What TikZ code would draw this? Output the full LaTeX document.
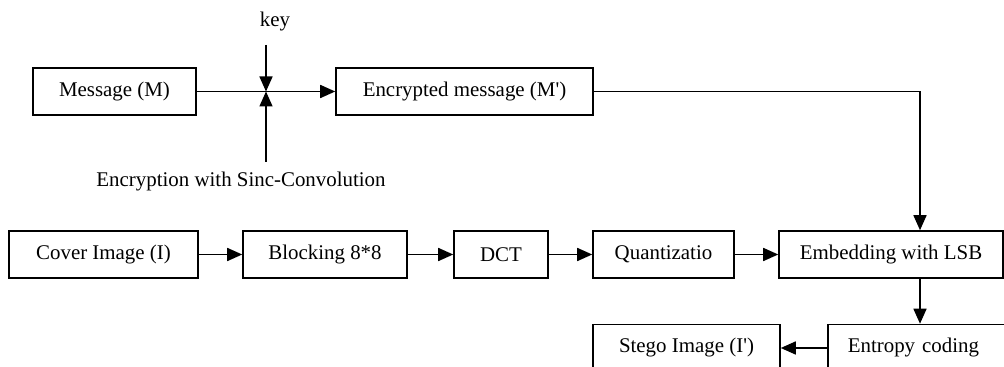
\documentclass[tikz,border=0pt]{standalone}
\usepackage{fontspec}
\setmainfont{Liberation Serif}
\usepackage{tikz}
\usetikzlibrary{arrows.meta}

\begin{document}
\begin{tikzpicture}[x = 0.02cm, y = -0.02cm,
    font = \fontsize{11.9}{13}\selectfont,
    blocco/.style = {draw, line width = 0.9pt, inner sep = 0pt, minimum height = 0.94cm},
    freccia/.style = {-{Triangle[length = 0.3cm, width = 0.26cm]}, line width = 0.9pt},
    linea/.style = {line width = 0.9pt}]
    % Parametri
    \pgfmathsetmacro{\ysopra}{91.5}
    \pgfmathsetmacro{\ymezzo}{254.5}
    \pgfmathsetmacro{\ysotto}{348}
    \useasboundingbox (0,0) rectangle (1004,367);
    \clip (0,0) rectangle (1004,367);
    % Cifratura
    \node[blocco, minimum width = 3.26cm] (msg) at (114.5,\ysopra) {Message (M)};
    \node[blocco, minimum width = 5.14cm] (enc) at (464.5,\ysopra) {Encrypted message (M\textquotesingle)};
    \node (key) at (275,22) {key};
    \node (sinc) at (241,182) {Encryption with Sinc-Convolution};
    \coordinate (keytop) at (266,45);
    \coordinate (sincbot) at (266,162);
    \coordinate (mix) at (266,\ysopra);
    \coordinate (turn) at (920,\ysopra);
    % Catena JPEG
    \node[blocco, minimum width = 3.78cm] (cover) at (103.5,\ymezzo) {Cover Image (I)};
    \node[blocco, minimum width = 3.28cm] (block) at (325,\ymezzo) {Blocking 8*8};
    \node[blocco, minimum width = 1.88cm] (dct) at (501,\ymezzo) {DCT};
    \node[blocco, minimum width = 2.82cm] (quant) at (663.5,\ymezzo) {Quantizatio};
    \node[blocco, minimum width = 4.48cm] (embed) at (891,\ymezzo) {Embedding with LSB};
    \node[blocco, minimum width = 3.74cm] (stego) at (686.5,\ysotto) {Stego Image (I\textquotesingle)};
    \node[blocco, anchor = west, inner xsep = 0.4cm, text width = 2.9cm, align = left] (entropy) at (827,\ysotto) {Entropy coding};
    % Frecce
    \draw[freccia] (msg.east) -- (enc.west);
    \draw[freccia] (keytop) -- (mix);
    \draw[freccia] (sincbot) -- (mix);
    \draw[linea] (enc.east) -- (turn);
    \draw[freccia] (turn) -- (turn |- embed.north);
    \draw[freccia] (cover) -- (block);
    \draw[freccia] (block) -- (dct);
    \draw[freccia] (dct) -- (quant);
    \draw[freccia] (quant) -- (embed);
    \draw[freccia] (turn |- embed.south) -- (turn |- entropy.north);
    \draw[freccia] (entropy) -- (stego);
\end{tikzpicture}
\end{document}
